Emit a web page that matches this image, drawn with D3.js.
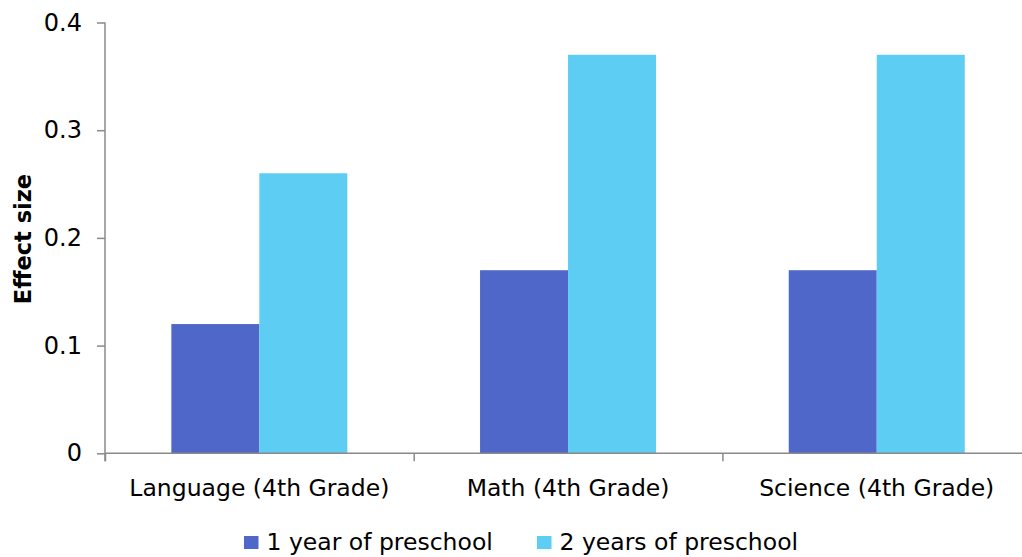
<!DOCTYPE html>
<html>
<head>
<meta charset="utf-8">
<script src="https://cdn.jsdelivr.net/npm/d3@7"></script>
<style>
  html, body { margin: 0; padding: 0; background: #fff; }
  svg { display: block; font-family: "DejaVu Sans", sans-serif; }
</style>
</head>
<body>
<svg id="chart" width="1022" height="557"></svg>
<script>
const categories = ["Language (4th Grade)", "Math (4th Grade)", "Science (4th Grade)"];
const seriesNames = ["1 year of preschool", "2 years of preschool"];
const oneYear = [0.12, 0.17, 0.17];
const twoYears = [0.26, 0.37, 0.37];
const yTicks = [0, 0.1, 0.2, 0.3, 0.4];
const yTickLabels = ["0", "0.1", "0.2", "0.3", "0.4"];
const colors = ["#4F67C8", "#5ECDF3"];

const seriesValues = [oneYear, twoYears];
const svg = d3.select("#chart");

const plotLeft = 105, plotBottom = 453.3, plotTop = 22.5;
const bandStep = 308.7;
const axisColor = "#8a8a8a";
const fontSize = "23.5px";

const x = d3.scaleBand().domain(categories).range([plotLeft, plotLeft + bandStep * categories.length]).padding(0);
const xs = d3.scaleBand().domain(seriesNames).range([0, x.bandwidth()]).paddingInner(0).paddingOuter(0.754);
const y = d3.scaleLinear().domain([0, 0.4]).range([plotBottom, plotTop]);

// bars
const groups = svg.append("g").selectAll("g")
  .data(categories)
  .join("g")
  .attr("transform", d => `translate(${x(d)},0)`);

groups.selectAll("rect")
  .data((c, i) => seriesNames.map((s, j) => ({ s, v: seriesValues[j][i], j })))
  .join("rect")
  .attr("x", d => xs(d.s))
  .attr("width", xs.bandwidth())
  .attr("y", d => y(d.v))
  .attr("height", d => plotBottom - y(d.v))
  .attr("fill", d => colors[d.j]);

// y axis
const yAxis = d3.axisLeft(y)
  .tickValues(yTicks)
  .tickFormat((d, i) => yTickLabels[i])
  .tickSize(8)
  .tickPadding(15)
  .tickSizeOuter(0);
const gy = svg.append("g").attr("transform", `translate(${plotLeft},0)`).call(yAxis);
gy.select(".domain").remove();
gy.append("line").attr("x1", 0).attr("x2", 0).attr("y1", plotTop).attr("y2", plotBottom + 8)
  .attr("stroke", axisColor).attr("stroke-width", 1.5);
gy.selectAll(".tick line").attr("stroke", axisColor).attr("stroke-width", 1.5);
gy.selectAll(".tick text").attr("fill", "#000").style("font-size", "24px")
  .style("font-family", "'DejaVu Sans', sans-serif");

// x axis with ticks at category boundaries
const boundaries = categories.map(c => x(c)).concat([x.range()[1]]);
const xLin = d3.scaleLinear().domain([plotLeft, x.range()[1]]).range([plotLeft, x.range()[1]]);
const xAxis = d3.axisBottom(xLin).tickValues(boundaries).tickFormat("").tickSize(8).tickSizeOuter(0);
const gx = svg.append("g").attr("transform", `translate(0,${plotBottom})`).call(xAxis);
gx.select(".domain").remove();
gx.append("line").attr("x1", plotLeft).attr("x2", 1022).attr("y1", 0).attr("y2", 0)
  .attr("stroke", axisColor).attr("stroke-width", 1.5);
gx.selectAll(".tick line").attr("stroke", axisColor).attr("stroke-width", 1.5);

// category labels
svg.append("g").selectAll("text")
  .data(categories)
  .join("text")
  .attr("x", d => x(d) + x.bandwidth() / 2)
  .attr("y", 496)
  .attr("text-anchor", "middle")
  .style("font-size", fontSize)
  .attr("fill", "#000")
  .text(d => d);

// y axis title
svg.append("text")
  .attr("transform", "translate(31,239) rotate(-90)")
  .attr("text-anchor", "middle")
  .style("font-size", "22.5px")
  .style("font-weight", "bold")
  .attr("fill", "#000")
  .text("Effect size");

// legend
const legendX = [244, 537];
const lg = svg.append("g").selectAll("g")
  .data(seriesNames)
  .join("g")
  .attr("transform", (d, i) => `translate(${legendX[i]},536)`);
lg.append("rect").attr("width", 14.5).attr("height", 13).attr("fill", (d, i) => colors[i]);
lg.append("text").attr("x", 22.5).attr("y", 14).style("font-size", fontSize).attr("fill", "#000").text(d => d);
</script>
</body>
</html>
